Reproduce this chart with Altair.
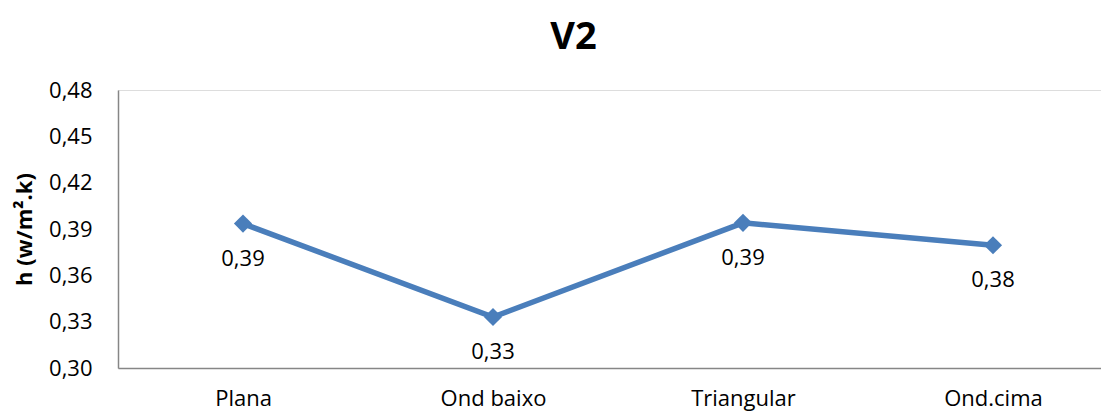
import altair as alt
import pandas as pd

categories = ["Plana", "Ond baixo", "Triangular", "Ond.cima"]
values = [0.3935, 0.333, 0.394, 0.3795]
y_ticks = [0.30, 0.33, 0.36, 0.39, 0.42, 0.45, 0.48]

df = pd.DataFrame({"cat": categories, "h": values})

FONT = "Open Sans"
BLUE = "#4A7EBB"

x_enc = alt.X("cat:N", sort=categories, title=None,
              scale=alt.Scale(paddingInner=0, paddingOuter=0, range=[0, 1000]),
              axis=alt.Axis(labelAngle=0, ticks=False, labelPadding=20, labelFontSize=22,
                            labelFont=FONT, labelColor="#000000", domainColor="#868686",
                            domainWidth=1.5, grid=False))
y_enc = alt.Y("h:Q", title="h (w/m².k)",
              scale=alt.Scale(domain=[0.30, 0.48], nice=False, zero=False),
              axis=alt.Axis(values=y_ticks, ticks=False, grid=False,
                            labelExpr="replace(format(datum.value, '.2f'), '.', ',')",
                            labelPadding=26, labelFontSize=22, labelFont=FONT,
                            labelColor="#000000", domainColor="#868686", domainWidth=1.5,
                            titleFont=FONT, titleFontSize=22, titleFontWeight="bold",
                            titleColor="#000000", titlePadding=12))

base = alt.Chart(df).encode(x=x_enc, y=y_enc)

line = base.mark_line(color=BLUE, strokeWidth=5.5)
pts = base.mark_point(shape="diamond", filled=True, size=330, color=BLUE, opacity=1)
labels = base.transform_calculate(
    lbl="replace(format(datum.h, '.2f'), '.', ',')"
).mark_text(dy=35, fontSize=22, font=FONT, color="#000000").encode(text="lbl:N")

chart = alt.layer(line, pts, labels).properties(
    width=983, height=278,
    title=alt.TitleParams("V2", font=FONT, fontSize=38, fontWeight="bold",
                          color="#000000", anchor="middle", dx=-36, offset=22),
    autosize=alt.AutoSizeParams(type="none"),
    padding={"left": 110, "top": 82, "right": 0, "bottom": 46},
).configure_view(stroke=None).configure(background="white")

chart.save("out.html", embed_options={"renderer": "svg", "actions": False})
